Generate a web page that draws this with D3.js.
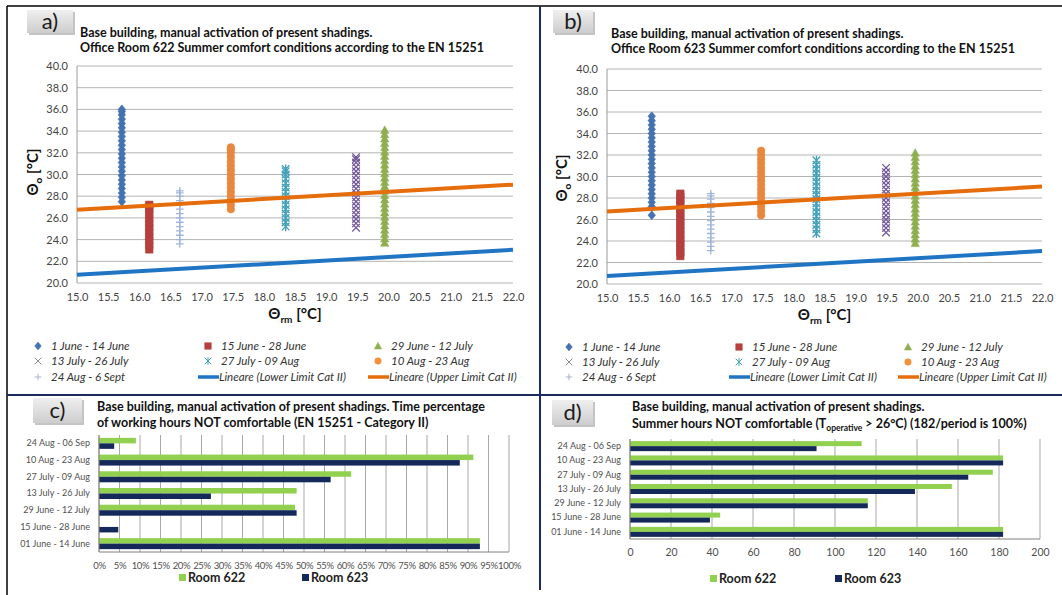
<!DOCTYPE html>
<html>
<head>
<meta charset="utf-8">
<script src="https://cdn.jsdelivr.net/npm/d3@7"></script>
<style>
body { margin: 0; background: #fff; }
svg { display: block; font-family: Lato, "Open Sans", sans-serif; }
</style>
</head>
<body>
<svg id="chart" width="1062" height="595"></svg>
<script>
/******************** data ********************/
var periods = ["1 June - 14 June", "15 June - 28 June", "29 June - 12 July", "13 July - 26 July",
               "27 July - 09 Aug", "10 Aug - 23 Aug", "24 Aug - 6 Sept"];

// running mean outdoor temperature of each period (x of the columns)
var runningMean622 = [15.72, 16.16, 19.94, 19.48, 18.35, 17.47, 16.65];
var runningMean623 = [15.72, 16.18, 19.96, 19.49, 18.37, 17.48, 16.67];

// operative temperatures, room 622
var op622_1 = [27.5, 27.9, 28.3, 28.7, 29.1, 29.5, 29.9, 30.3, 30.7, 31.1, 31.5, 31.9, 32.3, 32.7, 33.1, 33.5, 33.9, 34.3, 34.7, 35.1, 35.5, 35.8, 36.0];
var op622_2 = [23.1, 23.5, 23.9, 24.3, 24.7, 25.1, 25.5, 25.9, 26.3, 26.7, 27.0, 27.2];
var op622_3 = [23.7, 24.1, 24.5, 24.9, 25.3, 25.7, 26.1, 26.5, 26.9, 27.3, 27.7, 28.1, 28.5, 28.9, 29.3, 29.7, 30.1, 30.5, 30.9, 31.3, 31.7, 32.1, 32.5, 32.9, 33.3, 33.7, 34.1];
var op622_4 = [25.1, 25.5, 25.9, 26.3, 26.7, 27.1, 27.5, 27.9, 28.3, 28.7, 29.1, 29.5, 29.9, 30.3, 30.7, 31.1, 31.4, 31.6];
var op622_5 = [25.2, 25.6, 26.0, 26.4, 26.8, 27.2, 27.6, 28.0, 28.4, 28.8, 29.2, 29.6, 30.0, 30.3, 30.5];
var op622_6 = [26.8, 27.2, 27.6, 28.0, 28.4, 28.8, 29.2, 29.6, 30.0, 30.4, 30.8, 31.2, 31.6, 32.0, 32.3, 32.5];
var op622_7 = [23.6, 24.0, 24.4, 24.8, 25.2, 25.6, 26.0, 26.4, 26.8, 27.2, 27.6, 28.0, 28.3, 28.5];

// room 623
var op623_1 = [26.4, 27.2, 27.6, 28.0, 28.4, 28.8, 29.2, 29.6, 30.0, 30.4, 30.8, 31.2, 31.6, 32.0, 32.4, 32.8, 33.2, 33.6, 34.0, 34.4, 34.8, 35.2, 35.6];
var op623_2 = [22.6, 23.0, 23.4, 23.8, 24.2, 24.6, 25.0, 25.4, 25.8, 26.2, 26.6, 27.0, 27.4, 27.8, 28.1, 28.4];
var op623_3 = [23.8, 24.2, 24.6, 25.0, 25.4, 25.8, 26.2, 26.6, 27.0, 27.4, 27.8, 28.2, 28.6, 29.0, 29.4, 29.8, 30.2, 30.6, 31.0, 31.4, 31.8, 32.2];
var op623_4 = [24.8, 25.2, 25.6, 26.0, 26.4, 26.8, 27.2, 27.6, 28.0, 28.4, 28.8, 29.2, 29.6, 30.0, 30.4, 30.8];
var op623_5 = [24.7, 25.1, 25.5, 25.9, 26.3, 26.7, 27.1, 27.5, 27.9, 28.3, 28.7, 29.1, 29.5, 29.9, 30.3, 30.7, 31.1, 31.5];
var op623_6 = [26.4, 26.8, 27.2, 27.6, 28.0, 28.4, 28.8, 29.2, 29.6, 30.0, 30.4, 30.8, 31.2, 31.6, 32.0, 32.4];
var op623_7 = [23.1, 23.5, 23.9, 24.3, 24.7, 25.1, 25.5, 25.9, 26.3, 26.7, 27.1, 27.5, 27.9, 28.2, 28.4];

// EN 15251 category II limits (linear trendlines)
var limitX = [15, 22];
var lowerLimit = [20.75, 23.06];
var upperLimit = [26.75, 29.06];

// bar charts (bottom category first)
var barCategories = ["01 June - 14 June", "15 June - 28 June", "29 June - 12 July", "13 July - 26 July",
                     "27 July - 09 Aug", "10 Aug - 23 Aug", "24 Aug - 06 Sep"];
var pctNotComfortable622 = [92.9, 0, 47.8, 48.2, 61.5, 91.3, 9.0];
var pctNotComfortable623 = [92.9, 4.7, 48.2, 27.3, 56.5, 88.0, 3.7];
var hoursOver26_622 = [182, 44, 116, 157, 177, 182, 113];
var hoursOver26_623 = [182, 39, 116, 139, 165, 182, 91];

var rooms = ["Room 622", "Room 623"];

/******************** styles ********************/
var seriesColors = ["#4572b0", "#b5403d", "#8fae4f", "#72579a", "#42a0bb", "#e8873d", "#9fb5da"];
var legendColors = ["#4572b0", "#b5403d", "#8fae4f", "#8a8a8a", "#42a0bb", "#f0913c", "#a9b2c6"];
var seriesShapes = ["diamond", "square", "triangle", "times", "asterisk", "circle", "plus"];
var roomColors = ["#92d050", "#14295a"];

var svg = d3.select("#chart");

function shapePath(shape, s) {
	// s = half size
	switch (shape) {
		case "diamond":  return "M0," + (-s * 1.2) + "L" + s + ",0L0," + (s * 1.2) + "L" + (-s) + ",0Z";
		case "square":   return "M" + (-s) + "," + (-s) + "h" + (2 * s) + "v" + (2 * s) + "h" + (-2 * s) + "Z";
		case "triangle": return "M0," + (-s * 1.1) + "L" + (s * 1.1) + "," + (s * 0.9) + "L" + (-s * 1.1) + "," + (s * 0.9) + "Z";
		case "circle":   return d3.symbol(d3.symbolCircle, Math.PI * s * s)();
		case "times":    return "M" + (-s) + "," + (-s) + "L" + s + "," + s + "M" + (-s) + "," + s + "L" + s + "," + (-s);
		case "plus":     return "M" + (-s) + ",0H" + s + "M0," + (-s) + "V" + s;
		case "asterisk": return "M" + (-s) + "," + (-s) + "L" + s + "," + s + "M" + (-s) + "," + s + "L" + s + "," + (-s) + "M0," + (-s * 1.2) + "V" + (s * 1.2);
	}
}
function isStroke(shape) { return shape == "times" || shape == "plus" || shape == "asterisk"; }

/******************** frame ********************/
var defs = svg.append("defs");
var grad = defs.append("linearGradient").attr("id", "boxgrad").attr("x1", 0).attr("y1", 0).attr("x2", 0).attr("y2", 1);
grad.append("stop").attr("offset", "0%").attr("stop-color", "#efefef");
grad.append("stop").attr("offset", "100%").attr("stop-color", "#cdcdcd");

svg.append("line").attr("x1", 7).attr("x2", 1062).attr("y1", 6).attr("y2", 6).attr("stroke", "#000").attr("stroke-width", 1.5);
svg.append("line").attr("x1", 7).attr("x2", 7).attr("y1", 6).attr("y2", 595).attr("stroke", "#000").attr("stroke-width", 1.5);
svg.append("line").attr("x1", 540).attr("x2", 540).attr("y1", 6).attr("y2", 590).attr("stroke", "#1c2b5e").attr("stroke-width", 2);
svg.append("line").attr("x1", 7).attr("x2", 1062).attr("y1", 395).attr("y2", 395).attr("stroke", "#1c2b5e").attr("stroke-width", 2);

function panelLabel(x, y, w, h, txt) {
	svg.append("rect").attr("x", x + 2).attr("y", y + 2).attr("width", w).attr("height", h).attr("fill", "#c4c4c4");
	svg.append("rect").attr("x", x).attr("y", y).attr("width", w).attr("height", h).attr("fill", "url(#boxgrad)");
	svg.append("text").attr("x", x + w / 2).attr("y", y + h / 2 + 7).attr("text-anchor", "middle")
		.attr("font-size", 22).attr("fill", "#1a1a1a").text(txt);
}

function titleLines(x, ys, lines) {
	lines.forEach(function (l, i) {
		svg.append("text").attr("x", x).attr("y", ys[i]).attr("font-size", 12.5).attr("font-weight", "bold")
			.attr("fill", "#111").text(l);
	});
}

/******************** scatter panels ********************/
function drawScatter(opt) {
	var g = svg.append("g");
	var x = d3.scaleLinear().domain([15, 22]).range([opt.left, opt.right]);
	var y = d3.scaleLinear().domain([20, 40]).range([opt.bottom, opt.top]);

	// horizontal grid
	g.selectAll(".grid").data(y.ticks(10)).enter().append("line")
		.attr("x1", x(15)).attr("x2", x(22))
		.attr("y1", function (d) { return y(d); }).attr("y2", function (d) { return y(d); })
		.attr("stroke", "#b4b4b4").attr("stroke-width", 1);
	g.append("line").attr("x1", x(15)).attr("x2", x(15)).attr("y1", y(40)).attr("y2", y(20))
		.attr("stroke", "#9a9a9a");

	var yAxis = g.append("g").attr("transform", "translate(" + (x(15) - 3) + ",0)")
		.call(d3.axisLeft(y).ticks(10).tickFormat(d3.format(".1f")).tickSize(0).tickPadding(6));
	var xAxis = g.append("g").attr("transform", "translate(0," + (y(20) + 2) + ")")
		.call(d3.axisBottom(x).ticks(14).tickFormat(d3.format(".1f")).tickSize(0).tickPadding(8));
	[yAxis, xAxis].forEach(function (a) {
		a.select(".domain").remove();
		a.selectAll("text").attr("font-family", "Lato, sans-serif").attr("font-size", 11).attr("fill", "#444");
	});

	// columns of points
	opt.series.forEach(function (vals, i) {
		var shape = seriesShapes[i];
		g.selectAll(".s" + i).data(vals).enter().append("path")
			.attr("transform", function (d) { return "translate(" + x(opt.xs[i]) + "," + y(d) + ")"; })
			.attr("d", shapePath(shape, 3.8))
			.attr("fill", isStroke(shape) ? "none" : seriesColors[i])
			.attr("stroke", seriesColors[i])
			.attr("stroke-width", isStroke(shape) ? 1.3 : 0.5);
	});

	// trendlines
	var line = d3.line().x(function (d) { return x(d[0]); }).y(function (d) { return y(d[1]); });
	g.append("path").datum(d3.zip(limitX, lowerLimit)).attr("d", line)
		.attr("stroke", "#1f74c3").attr("stroke-width", 4).attr("fill", "none");
	g.append("path").datum(d3.zip(limitX, upperLimit)).attr("d", line)
		.attr("stroke", "#e56d0c").attr("stroke-width", 4).attr("fill", "none");

	// axis titles
	var xt = g.append("text").attr("x", (x(15) + x(22)) / 2).attr("y", opt.xTitleY).attr("text-anchor", "middle")
		.attr("font-size", 15).attr("font-weight", "bold").attr("fill", "#111");
	xt.append("tspan").text("\u0398");
	xt.append("tspan").attr("font-size", 10).attr("dy", 4).text("rm");
	xt.append("tspan").attr("dy", -4).text(" [\u00b0C]");

	var yt = g.append("text").attr("transform", "translate(" + opt.yTitleX + "," + opt.yTitleY + ") rotate(-90)")
		.attr("text-anchor", "middle").attr("font-size", 15).attr("font-weight", "bold").attr("fill", "#111");
	yt.append("tspan").text("\u0398");
	yt.append("tspan").attr("font-size", 10).attr("dy", 4).text("o");
	yt.append("tspan").attr("dy", -4).text(" [\u00b0C]");

	// legend 3 x 3
	var items = periods.map(function (p, i) { return { label: p, kind: "mark", i: i }; });
	items.push({ label: "Lineare (Lower Limit Cat II)", kind: "line", color: "#1f74c3" });
	items.push({ label: "Lineare (Upper Limit Cat II)", kind: "line", color: "#e56d0c" });
	items.forEach(function (it, k) {
		var col = k % 3, row = Math.floor(k / 3);
		var mx = opt.legendX[col], my = opt.legendY[row];
		if (it.kind == "mark") {
			var shape = seriesShapes[it.i];
			g.append("path").attr("transform", "translate(" + mx + "," + my + ")")
				.attr("d", shapePath(shape, 3.3))
				.attr("fill", isStroke(shape) ? "none" : legendColors[it.i])
				.attr("stroke", legendColors[it.i]).attr("stroke-width", isStroke(shape) ? 1 : 0.5);
			g.append("text").attr("x", mx + 13).attr("y", my + 4).attr("font-size", 11.5).attr("font-style", "italic")
				.attr("fill", "#333").text(it.label);
		} else {
			g.append("line").attr("x1", mx - 10).attr("x2", mx + 11).attr("y1", my).attr("y2", my)
				.attr("stroke", it.color).attr("stroke-width", 3.5);
			g.append("text").attr("x", mx + 11).attr("y", my + 4).attr("font-size", 11.5).attr("font-style", "italic")
				.attr("fill", "#333").text(it.label);
		}
	});
}

/******************** bar panels ********************/
function drawBars(opt) {
	var g = svg.append("g");
	var x = d3.scaleLinear().domain([0, opt.max]).range([opt.left, opt.right]);
	var yb = d3.scaleBand().domain(barCategories).range([opt.bottom, opt.top]);
	var ys = d3.scaleBand().domain(rooms).range([0, yb.bandwidth()]).paddingInner(0).paddingOuter(opt.pad);

	g.selectAll(".vgrid").data(x.ticks(opt.ticks)).enter().append("line")
		.attr("x1", function (d) { return x(d); }).attr("x2", function (d) { return x(d); })
		.attr("y1", opt.top).attr("y2", opt.bottom).attr("stroke", "#a8a8a8");

	var values = [opt.v622, opt.v623];
	rooms.forEach(function (r, ri) {
		g.selectAll(".b" + ri).data(barCategories).enter().append("rect")
			.attr("x", x(0))
			.attr("y", function (c) { return yb(c) + ys(r); })
			.attr("height", ys.bandwidth())
			.attr("width", function (c, i) { return x(values[ri][i]) - x(0); })
			.attr("fill", roomColors[ri]);
	});

	g.append("line").attr("x1", x(0)).attr("x2", x(0)).attr("y1", opt.top).attr("y2", opt.bottom).attr("stroke", "#808080");
	g.append("line").attr("x1", x(0)).attr("x2", x(opt.max)).attr("y1", opt.bottom).attr("y2", opt.bottom).attr("stroke", "#808080");

	var ya = g.append("g").attr("transform", "translate(" + (x(0) - 3) + ",0)")
		.call(d3.axisLeft(yb).tickSize(0).tickPadding(6));
	var xa = g.append("g").attr("transform", "translate(0," + opt.bottom + ")")
		.call(d3.axisBottom(x).ticks(opt.ticks).tickFormat(opt.fmt).tickSize(0).tickPadding(opt.tickPad));
	[ya, xa].forEach(function (a) {
		a.select(".domain").remove();
		a.selectAll("text").attr("font-family", "Lato, sans-serif").attr("fill", "#505050");
	});
	ya.selectAll("text").attr("font-size", 9);
	xa.selectAll("text").attr("font-size", opt.tickFont).attr("letter-spacing", opt.tickSpacing);

	rooms.forEach(function (r, ri) {
		var lx = opt.legendX[ri];
		g.append("rect").attr("x", lx).attr("y", opt.legendY - 8).attr("width", 7).attr("height", 7).attr("fill", roomColors[ri]);
		g.append("text").attr("x", lx + 9).attr("y", opt.legendY).attr("font-size", 12.5).attr("font-weight", "bold")
			.attr("fill", "#222").text(r);
	});
}

/******************** build ********************/
panelLabel(27, 10, 46, 23, "a)");
titleLines(80, [37, 52], ["Base building, manual activation of present shadings.",
	"Office Room 622 Summer comfort conditions according to the EN 15251"]);
drawScatter({
	left: 77, right: 513, top: 66, bottom: 283,
	xs: runningMean622,
	series: [op622_1, op622_2, op622_3, op622_4, op622_5, op622_6, op622_7],
	xTitleY: 319, yTitleX: 38, yTitleY: 172,
	legendX: [38, 208, 378], legendY: [346, 361, 377]
});

panelLabel(553, 10, 40, 23, "b)");
titleLines(611, [38, 53], ["Base building, manual activation of present shadings.",
	"Office Room 623 Summer comfort conditions according to the EN 15251"]);
drawScatter({
	left: 607, right: 1042, top: 69, bottom: 284,
	xs: runningMean623,
	series: [op623_1, op623_2, op623_3, op623_4, op623_5, op623_6, op623_7],
	xTitleY: 320, yTitleX: 567, yTitleY: 178,
	legendX: [569, 739, 908], legendY: [347, 362, 377]
});

panelLabel(33, 398, 49, 25, "c)");
titleLines(97, [411, 427], ["Base building, manual activation of present shadings. Time percentage",
	"of working hours NOT comfortable (EN 15251 - Category II)"]);
drawBars({
	left: 99, right: 509, top: 435, bottom: 552, max: 100, ticks: 20, pad: 0.52,
	fmt: function (d) { return d + "%"; }, tickPad: 10, tickFont: 9.5, tickSpacing: -0.3,
	v622: pctNotComfortable622, v623: pctNotComfortable623,
	legendX: [179, 302], legendY: 582
});

panelLabel(552, 400, 41, 25, "d)");
titleLines(632, [411, 428], ["Base building, manual activation of present shadings."]);
var t2 = svg.append("text").attr("x", 632).attr("y", 428).attr("font-size", 12.5).attr("font-weight", "bold").attr("fill", "#111");
t2.append("tspan").text("Summer hours NOT comfortable (T");
t2.append("tspan").attr("font-size", 8.5).attr("dy", 3).text("operative");
t2.append("tspan").attr("dy", -3).text(" > 26\u00b0C) (182/period is 100%)");
drawBars({
	left: 630, right: 1040, top: 439, bottom: 539, max: 200, ticks: 10, pad: 0.43,
	fmt: d3.format("d"), tickPad: 10, tickFont: 10.5, tickSpacing: 0,
	v622: hoursOver26_622, v623: hoursOver26_623,
	legendX: [710, 835], legendY: 583
});
</script>
</body>
</html>
